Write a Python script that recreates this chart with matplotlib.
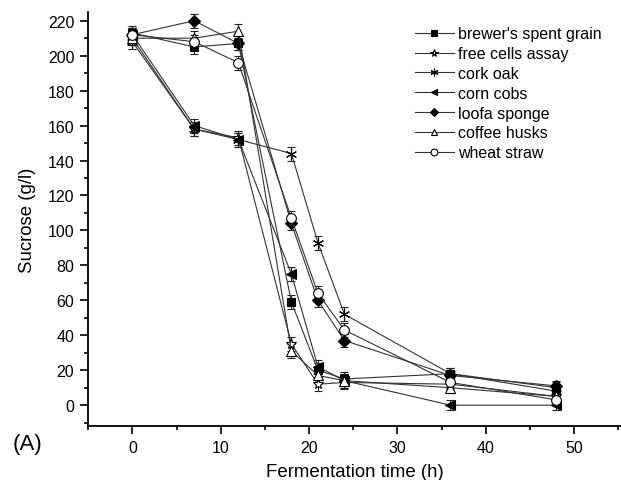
import matplotlib.pyplot as plt
import numpy as np

plt.rcParams['font.family'] = ['Liberation Sans', 'DejaVu Sans']

t = np.array([0, 7, 12, 18, 21, 24, 36, 48])

brewers = np.array([213, 205, 207, 59, 20, 15, 18, 8])
free_cells = np.array([210, 158, 153, 35, 12, 13, 12, 5])
cork_oak = np.array([208, 158, 152, 144, 93, 52, 18, 10])
corn_cobs = np.array([212, 160, 152, 75, 22, 14, 0, 0])
loofa = np.array([212, 220, 207, 104, 60, 37, 17, 11])
coffee = np.array([210, 210, 214, 31, 17, 14, 10, 5])
wheat = np.array([212, 208, 196, 107, 64, 43, 13, 3])

err = np.array([4, 4, 4, 4, 4, 4, 3, 3])

labels = ["brewer's spent grain", 'free cells assay', 'cork oak', 'corn cobs',
          'loofa sponge', 'coffee husks', 'wheat straw']
series = [brewers, free_cells, cork_oak, corn_cobs, loofa, coffee, wheat]
markers = ['s', '*', (6, 2, 0), '<', 'D', '^', 'o']
fills = ['black', 'white', 'black', 'black', 'black', 'white', 'white']
msizes = [6, 8, 8, 7, 6, 7, 7]

fig = plt.figure(figsize=(6.21, 4.81), dpi=100)
ax = fig.add_axes([0.142, 0.112, 0.858, 0.861])

for y, lab, m, fc, ms in zip(series, labels, markers, fills, msizes):
    ax.errorbar(t, y, yerr=err, color='#333333', lw=0.8, ecolor='#222222',
                elinewidth=0.8, capsize=3, capthick=0.8,
                marker=m, markersize=ms, markerfacecolor=fc,
                markeredgecolor='black', markeredgewidth=0.8, label=lab)

ax.set_xlim(-5, 55.3)
ax.set_ylim(-12, 225)
ax.set_xticks(range(0, 51, 10))
ax.set_xticks(range(-5, 56, 5), minor=True)
ax.set_yticks(range(0, 221, 20))
ax.set_yticks(range(-10, 221, 10), minor=True)
ax.spines['top'].set_visible(False)
ax.spines['right'].set_visible(False)
ax.spines['left'].set_linewidth(1.3)
ax.spines['bottom'].set_linewidth(1.3)
ax.tick_params(which='major', length=5.5, width=1.2, labelsize=11.5, pad=4.5)
ax.tick_params(which='minor', length=3, width=1.2)
ax.set_xlabel('Fermentation time (h)', fontsize=13.4, labelpad=6)
ax.set_ylabel('Sucrose (g/l)', fontsize=13.4, labelpad=8)

handles, labs = ax.get_legend_handles_labels()
handles = [h[0] for h in handles]
ax.legend(handles, labs, loc='upper right', bbox_to_anchor=(0.99, 1.0),
          frameon=False, fontsize=11.5, handlelength=2.45, labelspacing=0.3,
          handletextpad=0.25, markerscale=0.7)

fig.text(0.02, 0.065, '(A)', fontsize=16)

fig.savefig('out.png', dpi=100)
